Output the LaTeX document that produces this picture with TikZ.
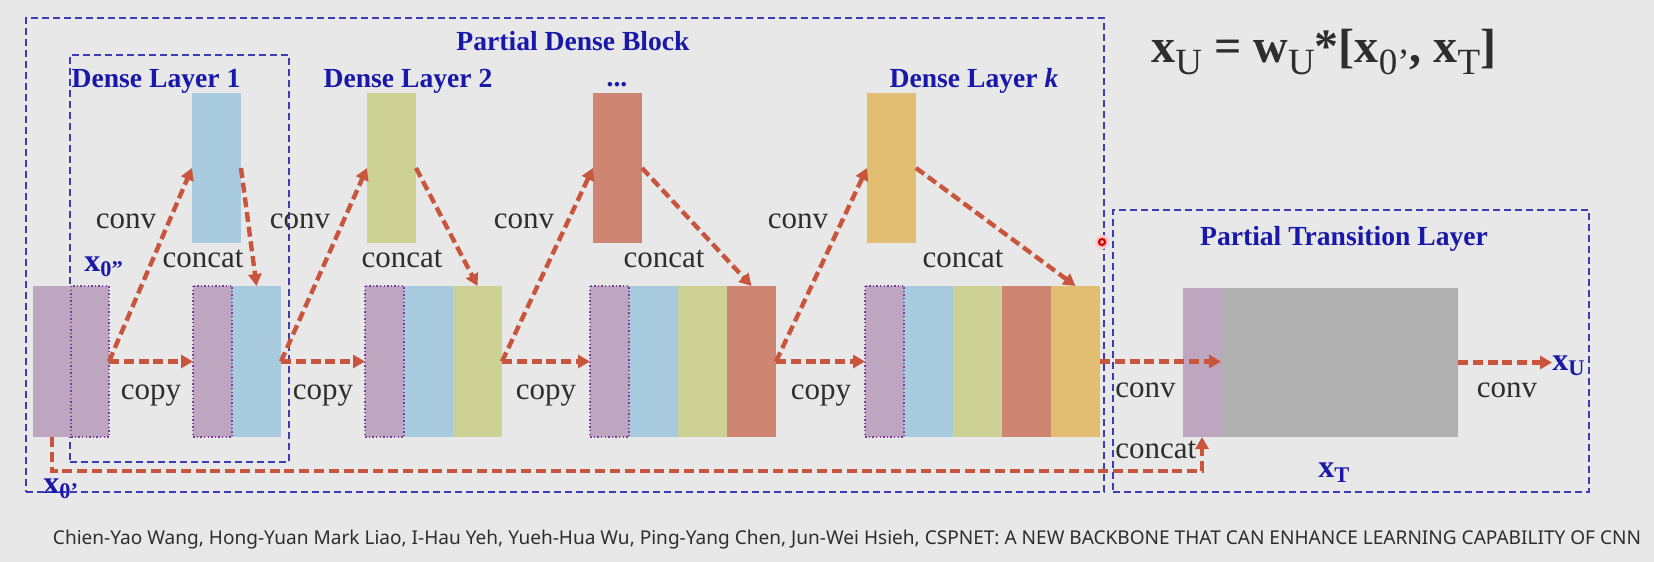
\documentclass[tikz,border=0pt]{standalone}
\usepackage{fontspec}
\usepackage{graphicx}
\setmainfont{Liberation Serif}
\newfontfamily\citefont{Noto Sans}
\usetikzlibrary{arrows.meta}
\definecolor{bg}{HTML}{E8E8E8}
\definecolor{cpurple}{HTML}{BEA5C0}
\definecolor{cblueS}{HTML}{A8CADE}
\definecolor{cgreen}{HTML}{CDD294}
\definecolor{cred}{HTML}{CE8672}
\definecolor{corange}{HTML}{E2BE73}
\definecolor{cgray}{HTML}{B0B0B0}
\definecolor{cflow}{HTML}{C8553C}
\definecolor{cbluetext}{HTML}{1818AA}
\definecolor{cbox}{HTML}{3C3CB4}
\definecolor{cdot}{HTML}{7A3CA0}
\definecolor{ctext}{HTML}{2E2E2E}
\newcommand\subm[1]{\raisebox{-6pt}{\fontsize{18.5}{20}\selectfont\mdseries #1}}
\begin{document}
\begin{tikzpicture}[x=0.5pt,y=-0.5pt,
  strip/.style={anchor=north west, inner sep=0pt, outer sep=0pt, minimum width=24.5pt, minimum height=75.5pt},
  pstrip/.style={strip, fill=cpurple, minimum width=19.5pt},
  dotbox/.style={draw=cdot, line width=1pt, dash pattern=on 0.7pt off 1.1pt},
  toprect/.style={anchor=north west, inner sep=0pt, outer sep=0pt, minimum width=24.5pt, minimum height=75pt},
  grp/.style={draw=cbox, line width=1pt, dash pattern=on 3.5pt off 2pt, anchor=north west, inner sep=0pt, outer sep=0pt},
  flow/.style={draw=cflow, line width=2.2pt, dash pattern=on 5pt off 2.4pt, -{Triangle[length=6pt,width=6.5pt]}},
  lbl/.style={anchor=base, inner sep=0pt, text=ctext, font=\fontsize{15.5}{18}\selectfont},
  blbl/.style={anchor=base, inner sep=0pt, text=cbluetext, font=\fontsize{13.8}{16}\selectfont\bfseries},
  xlbl/.style={anchor=base west, inner sep=0pt, text=cbluetext, font=\fontsize{16}{18}\selectfont\bfseries},
]
\useasboundingbox (0,0) rectangle (1654,562);
\fill[bg] (0,0) rectangle (1654,562);

% group boxes
\node[grp, minimum width=539pt, minimum height=237pt] (pdb) at (26,18) {};
\node[grp, minimum width=109.5pt, minimum height=203.5pt] (dl1) at (70,55) {};
\node[grp, minimum width=238pt, minimum height=141pt] (ptl) at (1113,210) {};

% top feature maps
\node[toprect, fill=cblueS] (t1) at (192,93) {};
\node[toprect, fill=cgreen] (t2) at (367,93) {};
\node[toprect, fill=cred] (t3) at (593,93) {};
\node[toprect, fill=corange] (tk) at (867,93) {};

% input
\node[strip, fill=cpurple, minimum width=19pt] (i0) at (33,286) {};
\node[strip, fill=cpurple, minimum width=19pt] (i1) at (i0.north east) {};
% layer 1
\node[pstrip] (p1) at (193,286) {};
\node[strip, fill=cblueS] (b1) at (p1.north east) {};
% layer 2
\node[pstrip] (p2) at (365,286) {};
\node[strip, fill=cblueS] (b2) at (p2.north east) {};
\node[strip, fill=cgreen] (g2) at (b2.north east) {};
% layer 3
\node[pstrip] (p3) at (590,286) {};
\node[strip, fill=cblueS] (b3) at (p3.north east) {};
\node[strip, fill=cgreen] (g3) at (b3.north east) {};
\node[strip, fill=cred] (r3) at (g3.north east) {};
% layer k
\node[pstrip] (pk) at (865,286) {};
\node[strip, fill=cblueS] (bk) at (pk.north east) {};
\node[strip, fill=cgreen] (gk) at (bk.north east) {};
\node[strip, fill=cred] (rk) at (gk.north east) {};
\node[strip, fill=corange] (ok) at (rk.north east) {};
% transition
\node[strip, fill=cpurple, minimum width=19pt, minimum height=74.5pt] (tp) at (1183,288) {};
\node[strip, fill=cgray, minimum width=118.5pt, minimum height=74.5pt] (tg) at (tp.north east) {};

\foreach \n in {i1,p1,p2,p3,pk}
  \draw[dotbox] (\n.north west) rectangle (\n.south east);

% titles
\node[blbl] (tpdb) at (573,50) {Partial Dense Block};
\node[blbl] (tdl1) at (156,87) {Dense Layer 1};
\node[blbl] (tdl2) at (408,87) {Dense Layer 2};
\node[blbl] (tdl3) at (617,86) {...};
\node[blbl] (tdlk) at (974,87) {Dense Layer \textit{k}};
\node[blbl] (tptl) at (1344,245) {Partial Transition Layer};

% variable labels
\node[xlbl] (x0b) at (84,271) {x\textsubscript{0”}};
\node[xlbl] (x0a) at (43,493) {x\textsubscript{0’}};
\node[xlbl] (xt) at (1318,477) {x\textsubscript{T}};
\node[xlbl] (xu) at (1552,370) {x\textsubscript{U}};

% formula
\node[anchor=base west, inner sep=0pt, text=ctext, font=\fontsize{24}{29}\selectfont\bfseries] (formula) at (1151,62)
  {x\subm{U} = w\subm{U}*[x\subm{0’}, x\subm{T}]};

% arrows
\draw[flow] (i1.east) -- (t1.west);
\draw[flow] (t1.east) -- (b1.north);
\draw[flow] (i1.east) -- (p1.west);
\draw[flow] (b1.east) -- (t2.west);
\draw[flow] (t2.east) -- (g2.north);
\draw[flow] (b1.east) -- (p2.west);
\draw[flow] (g2.east) -- (t3.west);
\draw[flow] (t3.east) -- (r3.north);
\draw[flow] (g2.east) -- (p3.west);
\draw[flow] (r3.east) -- (tk.west);
\draw[flow] (tk.east) -- (ok.north);
\draw[flow] (r3.east) -- (pk.west);
\draw[flow] (ok.east) -- (ok.east -| tp.east);
\draw[flow] (tg.east) -- (tg.east -| xu.west);
\draw[flow] (i0.south) -- ++(0,34) -| (tp.south);

% operation labels
\node[lbl] (c1) at (126,228) {conv};
\node[lbl] (k1) at (203,267) {concat};
\node[lbl] (y1) at (151,399) {copy};
\node[lbl] (c2) at (300,228) {conv};
\node[lbl] (k2) at (402,267) {concat};
\node[lbl] (y2) at (323,399) {copy};
\node[lbl] (c3) at (524,228) {conv};
\node[lbl] (k3) at (664,267) {concat};
\node[lbl] (y3) at (546,399) {copy};
\node[lbl] (c4) at (798,228) {conv};
\node[lbl] (k4) at (963,267) {concat};
\node[lbl] (y4) at (821,399) {copy};
\node[lbl, anchor=base west] (c5) at (1115,397) {conv};
\node[lbl, anchor=base west] (k5) at (1115,458) {concat};
\node[lbl] (c6) at (1507,397) {conv};

% pointer mark
\fill[red!20] (1102,242) circle (3.6pt);
\fill[red!35] (1102,242) circle (2.4pt);
\draw[red!80!black, line width=1pt] (1102,242) circle (1.5pt);

% citation
\node[anchor=base, inner sep=0pt, text=ctext] (cite) at (847,544)
  {\resizebox{794pt}{!}{\citefont\fontsize{9.4}{11}\selectfont Chien-Yao Wang, Hong-Yuan Mark Liao, I-Hau Yeh, Yueh-Hua Wu, Ping-Yang Chen, Jun-Wei Hsieh, CSPNET: A NEW BACKBONE THAT CAN ENHANCE LEARNING CAPABILITY OF CNN}};
\end{tikzpicture}
\end{document}
